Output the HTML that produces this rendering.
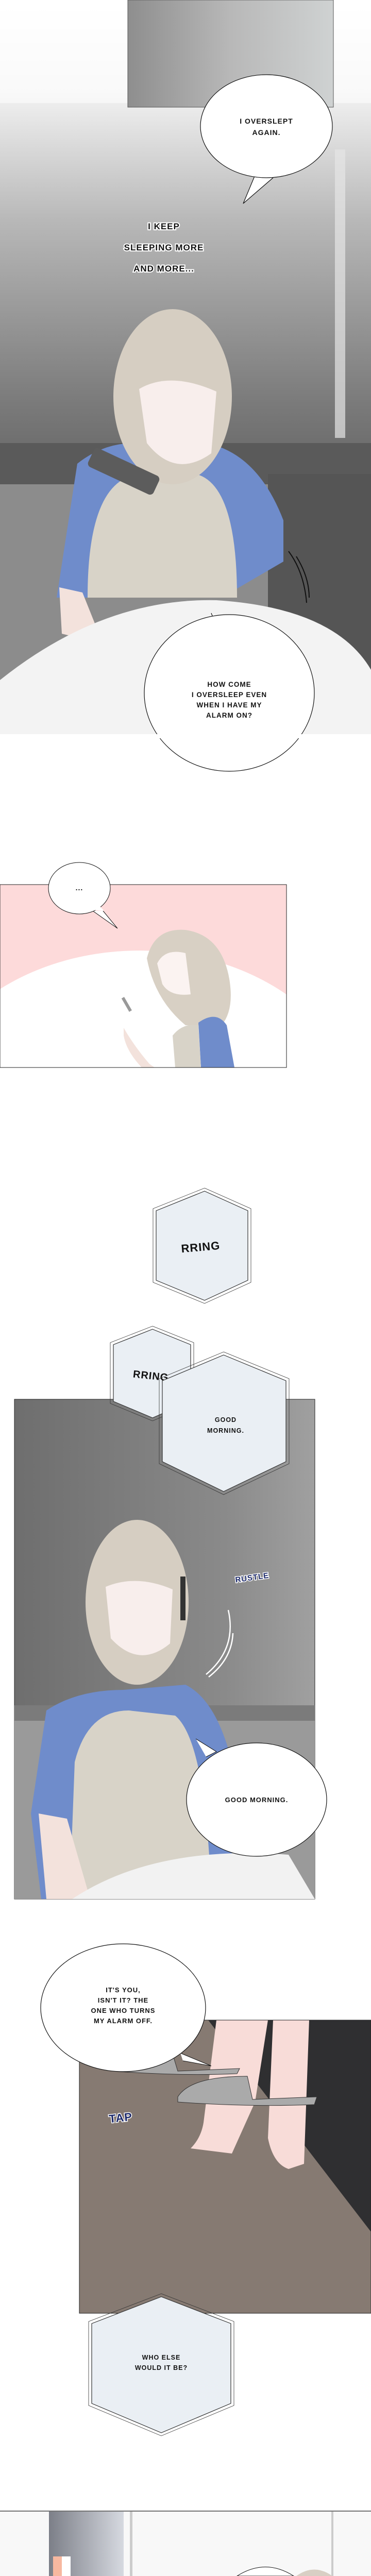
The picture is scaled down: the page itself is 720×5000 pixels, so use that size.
<!DOCTYPE html>
<html><head><meta charset="utf-8"><style>
html,body{margin:0;padding:0;background:#fff}
svg{display:block}
text{font-family:"Liberation Sans",sans-serif;font-weight:bold;fill:#111;text-anchor:middle;letter-spacing:1px}
</style></head><body>
<svg width="720" height="5000" viewBox="0 0 720 5000" xmlns="http://www.w3.org/2000/svg">
<defs>
<linearGradient id="g1" x1="0" y1="0" x2="0" y2="1">
<stop offset="0" stop-color="#ffffff"/><stop offset="0.12" stop-color="#f4f4f4"/><stop offset="0.3" stop-color="#b8b8b8"/><stop offset="0.55" stop-color="#7a7a7a"/><stop offset="0.7" stop-color="#5c5c5c"/></linearGradient>
<linearGradient id="win" x1="0" y1="0" x2="1" y2="0"><stop offset="0" stop-color="#8e8e8e"/><stop offset="0.5" stop-color="#b8b8b8"/><stop offset="1" stop-color="#cfd2d2"/></linearGradient>
<linearGradient id="g3" x1="0" y1="0" x2="1" y2="0"><stop offset="0" stop-color="#6e6e6e"/><stop offset="0.7" stop-color="#8a8a8a"/><stop offset="1" stop-color="#a0a0a0"/></linearGradient>
<linearGradient id="shelf" x1="0" y1="0" x2="1" y2="0"><stop offset="0" stop-color="#7c7f88"/><stop offset="1" stop-color="#d6d9e0"/></linearGradient>
</defs>

<!-- PANEL 1 -->
<rect x="0" y="0" width="720" height="1425" fill="url(#g1)"/>
<rect x="0" y="0" width="720" height="200" fill="#fff" opacity="0.5"/>
<rect x="248" y="0" width="399" height="208" fill="url(#win)" stroke="#555" stroke-width="1"/>
<rect x="650" y="290" width="20" height="560" fill="#e6e6e6" opacity="0.7"/>
<rect x="0" y="860" width="720" height="90" fill="#5a5a5a"/>
<rect x="0" y="940" width="720" height="485" fill="#8c8c8c"/>
<rect x="520" y="920" width="200" height="505" fill="#555"/>
<!-- figure 1 -->
<path d="M110 1160 L150 900 Q200 860 260 860 L400 860 Q500 880 550 1010 L550 1090 L430 1160 Z" fill="#6f8ccb"/>
<path d="M170 1160 Q170 920 280 920 L380 920 Q460 940 460 1160 Z" fill="#d8d3c8"/>
<path d="M115 1140 L160 1150 L200 1250 L120 1230 Z" fill="#f3e2dc"/>
<ellipse cx="335" cy="770" rx="115" ry="170" fill="#d6cec2"/>
<path d="M270 755 Q330 720 420 760 L410 880 Q340 930 285 860 Z" fill="#f8eeec"/>
<rect x="170" y="895" width="140" height="40" rx="8" fill="#5c5c5c" transform="rotate(25 240 915)"/>
<path d="M0 1425 L0 1320 Q200 1160 420 1165 Q650 1180 720 1300 L720 1425 Z" fill="#f3f3f3"/>
<path d="M560 1070 Q590 1110 595 1170 M575 1080 Q600 1120 600 1160" stroke="#111" stroke-width="2" fill="none"/>
<!-- bubble 1 -->
<path d="M497 335 L472 395 L530 345" fill="#fff" stroke="#111" stroke-width="1.2"/>
<ellipse cx="517" cy="245" rx="128" ry="100" fill="#fff" stroke="#111" stroke-width="1.2"/>
<path d="M480 333 L498 335 L530 343 Z" fill="#fff"/>
<text x="517" y="240" font-size="14">I OVERSLEPT</text>
<text x="517" y="262" font-size="14">AGAIN.</text>
<g font-size="17" stroke="#fff" stroke-width="4" paint-order="stroke">
<text x="318" y="445">I KEEP</text>
<text x="318" y="486">SLEEPING MORE</text>
<text x="318" y="527">AND MORE...</text></g>
<!-- bubble 2 -->
<path d="M410 1190 L430 1240 L455 1210" fill="#fff" stroke="#111" stroke-width="1.2"/>
<ellipse cx="445" cy="1345" rx="165" ry="152" fill="#fff" stroke="#111" stroke-width="1.2"/>
<text x="445" y="1333" font-size="13.5">HOW COME</text>
<text x="445" y="1353" font-size="13.5">I OVERSLEEP EVEN</text>
<text x="445" y="1373" font-size="13.5">WHEN I HAVE MY</text>
<text x="445" y="1393" font-size="13.5">ALARM ON?</text>
<rect x="0" y="1425" width="720" height="8" fill="#fff"/>

<!-- PANEL 2 -->
<clipPath id="c2"><rect x="0" y="1717" width="556" height="355"/></clipPath>
<g clip-path="url(#c2)">
<rect x="0" y="1717" width="556" height="355" fill="#fddada"/>
<ellipse cx="270" cy="2200" rx="440" ry="355" fill="#fff"/>
<path d="M285 1860 Q300 1800 360 1805 Q430 1815 445 1900 Q455 1960 430 1990 L360 1990 Q300 1940 285 1860 Z" fill="#d8d0c4"/>
<path d="M305 1870 Q320 1840 360 1850 L370 1930 Q330 1935 315 1910 Z" fill="#fbf3f1"/>
<path d="M385 1985 Q420 1960 440 1990 L455 2072 L390 2072 Z" fill="#6f8ccb"/>
<path d="M335 2010 Q355 1985 385 1990 L390 2072 L340 2072 Z" fill="#d8d3c8"/>
<path d="M240 1995 Q260 2030 290 2065 L300 2072 L275 2072 Q245 2040 240 2010 Z" fill="#f3e2dc"/>
<rect x="243" y="1730" width="6" height="30" fill="#999" transform="translate(0,205) rotate(-30 245 1745)"/>
</g>
<rect x="0" y="1717" width="556" height="355" fill="none" stroke="#222" stroke-width="1"/>
<path d="M180 1768 L228 1802 L200 1768" fill="#fff" stroke="#111" stroke-width="1"/>
<ellipse cx="154" cy="1724" rx="60" ry="50" fill="#fff" stroke="#111" stroke-width="1"/>
<path d="M176 1766 L202 1768 L190 1755Z" fill="#fff"/>
<text x="154" y="1728" font-size="14">...</text>

<!-- hex 1 -->
<g stroke="#333" stroke-width="1.2">
<polygon points="397,2312 481,2350 481,2485 397,2524 303,2485 303,2350" fill="#eaeff4"/>
<polygon points="397,2306 487,2346 487,2489 397,2530 297,2489 297,2346" fill="none" stroke-width="0.8"/>
</g>
<text x="390" y="2428" font-size="22" font-weight="normal" transform="rotate(-5 390 2428)">RRING</text>

<!-- PANEL 3 -->
<rect x="28" y="2716" width="583" height="970" fill="url(#g3)" stroke="#222" stroke-width="1"/>
<rect x="28" y="3325" width="583" height="361" fill="#9a9a9a"/>
<rect x="28" y="3310" width="583" height="30" fill="#7b7b7b"/>
<!-- figure 3 -->
<path d="M60 3520 L90 3320 Q150 3280 240 3280 L360 3270 Q420 3300 450 3420 L450 3686 L80 3686 Z" fill="#6f8ccb"/>
<path d="M135 3686 L145 3420 Q170 3320 250 3320 L340 3330 Q400 3380 410 3686 Z" fill="#d8d3c8"/>
<path d="M75 3520 L130 3530 L175 3686 L90 3686 Z" fill="#f3e2dc"/>
<ellipse cx="266" cy="3110" rx="100" ry="160" fill="#d6cec2"/>
<path d="M205 3080 Q265 3055 335 3085 L330 3190 Q270 3240 215 3180 Z" fill="#f8eeec"/>
<rect x="350" y="3060" width="10" height="85" fill="#333"/>
<path d="M140 3686 Q300 3580 560 3600 L611 3686 Z" fill="#f2f2f2"/>
<text x="490" y="3067" font-size="15" stroke="#fff" stroke-width="3" paint-order="stroke" transform="rotate(-8 490 3067)" style="fill:#1d2a6b">RUSTLE</text>
<path d="M443 3125 Q460 3200 400 3250 M452 3170 Q450 3220 405 3255" stroke="#fff" stroke-width="2.5" fill="none"/>
<!-- bubble good morning -->
<path d="M380 3375 L420 3400 L400 3410" fill="#fff" stroke="#111" stroke-width="1"/>
<ellipse cx="498" cy="3493" rx="136" ry="110" fill="#fff" stroke="#111" stroke-width="1.2"/>
<text x="498" y="3498" font-size="13">GOOD MORNING.</text>

<!-- hex 2 (RRING small) -->
<g stroke="#333" stroke-width="1.2">
<polygon points="296,2580 370,2610 370,2720 296,2752 220,2720 220,2610" fill="#eaeff4"/>
<polygon points="296,2574 376,2606 376,2724 296,2758 214,2724 214,2606" fill="none" stroke-width="0.8"/>
</g>
<text x="292" y="2677" font-size="20" font-weight="normal" transform="rotate(6 292 2677)">RRING</text>
<!-- hex good morning -->
<g stroke="#333" stroke-width="1.2">
<polygon points="434,2630 555,2680 555,2837 434,2895 315,2837 315,2680" fill="#eaeff4"/>
<polygon points="434,2624 561,2676 561,2841 434,2901 309,2841 309,2676" fill="none" stroke-width="0.8"/>
</g>
<text x="438" y="2760" font-size="12.5">GOOD</text>
<text x="438" y="2781" font-size="12.5">MORNING.</text>

<!-- PANEL 4 -->
<rect x="154" y="3921" width="566" height="569" fill="#867a72"/>
<polygon points="404,3921 720,3921 720,4332" fill="#2f2f31"/>
<path d="M420 3921 L395 4120 Q390 4150 370 4170 L450 4180 L495 4080 L520 3921 Z" fill="#f8dcd8"/>
<path d="M530 3921 L520 4150 Q530 4200 560 4210 L590 4200 L600 3921 Z" fill="#f8dcd8"/>
<path d="M215 4010 Q240 3970 330 3970 L345 4020 L465 4015 L460 4025 Q350 4030 220 4020 Z" fill="#aaa" stroke="#333" stroke-width="1"/>
<path d="M345 4070 Q370 4030 480 4030 L490 4075 L615 4070 L610 4085 Q480 4090 345 4080 Z" fill="#aaa" stroke="#333" stroke-width="1"/>
<rect x="154" y="3921" width="566" height="569" fill="none" stroke="#222" stroke-width="1"/>
<text x="235" y="4118" font-size="22" style="fill:#1d2a6b" stroke="#fff" stroke-width="3" paint-order="stroke" transform="rotate(-6 235 4118)">TAP</text>
<!-- bubble it's you -->
<path d="M350 3985 L410 4010 L355 4000" fill="#fff" stroke="#111" stroke-width="1"/>
<ellipse cx="239" cy="3897" rx="160" ry="124" fill="#fff" stroke="#111" stroke-width="1.2"/>
<text x="239" y="3867" font-size="13">IT'S YOU,</text>
<text x="239" y="3887" font-size="13">ISN'T IT? THE</text>
<text x="239" y="3907" font-size="13">ONE WHO TURNS</text>
<text x="239" y="3927" font-size="13">MY ALARM OFF.</text>
<!-- hex who else -->
<g stroke="#333" stroke-width="1.2">
<polygon points="313,4458 448,4510 448,4665 313,4722 178,4665 178,4510" fill="#eaeff4"/>
<polygon points="313,4452 454,4506 454,4669 313,4728 172,4669 172,4506" fill="none" stroke-width="0.8"/>
</g>
<text x="313" y="4580" font-size="12.5">WHO ELSE</text>
<text x="313" y="4600" font-size="12.5">WOULD IT BE?</text>

<!-- PANEL 5 -->
<rect x="0" y="4874" width="720" height="126" fill="#f8f8f8"/>
<line x1="0" y1="4874" x2="720" y2="4874" stroke="#222" stroke-width="1.2"/>
<rect x="95" y="4875" width="145" height="125" fill="url(#shelf)"/>
<rect x="252" y="4875" width="5" height="125" fill="#ccc"/>
<rect x="643" y="4875" width="4" height="125" fill="#ccc"/>
<rect x="103" y="4962" width="17" height="38" fill="#f7b8a0"/>
<rect x="120" y="4962" width="17" height="38" fill="#fff"/>
<path d="M460 5000 Q515 4965 570 5000 Z" fill="#fff" stroke="#111" stroke-width="1"/>
<path d="M575 5000 Q610 4975 645 5000 Z" fill="#d8cfc4"/>
</svg>
</body></html>
